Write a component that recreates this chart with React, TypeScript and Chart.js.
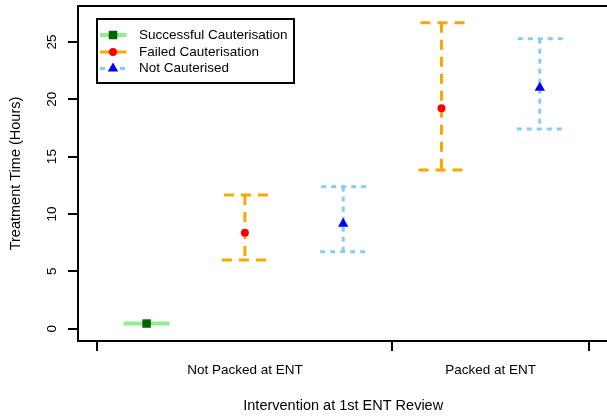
import React, { useEffect, useRef } from 'react';
import { Chart, registerables } from 'chart.js';

Chart.register(...registerables);

// ---- data ----
const categories = ['Not Packed at ENT', 'Packed at ENT'];
const categoryPos = [2, 4.5];
const xTickPos = [0.5, 3.5, 5.5];
const yTicks = [0, 5, 10, 15, 20, 25];
const xTitle = 'Intervention at 1st ENT Review';
const yTitle = 'Treatment Time (Hours)';

const seriesNames = ['Successful Cauterisation', 'Failed Cauterisation', 'Not Cauterised'];

const successX = [1];
const successMean = [0.45];
const successLow = [0.45];
const successHigh = [0.45];

const failedX = [2, 4];
const failedMean = [8.37, 19.22];
const failedLow = [5.99, 13.84];
const failedHigh = [11.66, 26.68];

const notX = [3, 5];
const notMean = [9.15, 21.01];
const notLow = [6.71, 17.41];
const notHigh = [12.38, 25.28];

const FONT = '13.5px "Liberation Sans", Arial, sans-serif';
const TITLE_FONT = '14.5px "Liberation Sans", Arial, sans-serif';
const CAP = 23;

const styles = [
  { line: '#90EE90', width: 4, dash: [] as number[], marker: '#006400', shape: 'rect', r: 6 },
  { line: '#FFA500', width: 3, dash: [10, 7], marker: '#FF0000', shape: 'circle', r: 4 },
  { line: '#87CEEB', width: 3, dash: [5, 5], marker: '#0000FF', shape: 'triangle', r: 6 },
];

function drawMarker(ctx: CanvasRenderingContext2D, shape: string, x: number, y: number, r: number, color: string) {
  ctx.save();
  ctx.fillStyle = color;
  ctx.beginPath();
  if (shape === 'rect') {
    const s = Math.SQRT1_2 * r;
    ctx.rect(x - s, y - s, 2 * s, 2 * s);
  } else if (shape === 'circle') {
    ctx.arc(x, y, r, 0, Math.PI * 2);
  } else {
    ctx.moveTo(x, y - r);
    ctx.lineTo(x + r * Math.sin((2 * Math.PI) / 3), y - r * Math.cos((2 * Math.PI) / 3));
    ctx.lineTo(x + r * Math.sin((4 * Math.PI) / 3), y - r * Math.cos((4 * Math.PI) / 3));
    ctx.closePath();
  }
  ctx.fill();
  ctx.restore();
}

export default function App() {
  const ref = useRef<HTMLCanvasElement>(null);

  useEffect(() => {
    document.body.style.margin = '0';
    const canvas = ref.current!;
    const mk = (xs: number[], ys: number[]) => xs.map((x, i) => ({ x, y: ys[i] }));
    const sets = [
      { xs: successX, m: successMean, lo: successLow, hi: successHigh },
      { xs: failedX, m: failedMean, lo: failedLow, hi: failedHigh },
      { xs: notX, m: notMean, lo: notLow, hi: notHigh },
    ];
    const datasets: any[] = sets.map((s, i) => ({
      label: seriesNames[i],
      data: mk(s.xs, s.m),
      low: s.lo,
      high: s.hi,
      showLine: false,
      pointStyle: styles[i].shape,
      pointRadius: styles[i].r,
      pointHoverRadius: styles[i].r,
      pointBackgroundColor: styles[i].marker,
      pointBorderColor: styles[i].marker,
      pointBorderWidth: 0,
      clip: false,
    }));

    const errorBars = {
      id: 'errorBars',
      beforeDatasetsDraw(chart: any) {
        const { ctx } = chart;
        const x = chart.scales.x;
        const y = chart.scales.y;
        chart.data.datasets.forEach((ds: any, di: number) => {
          const st = styles[di];
          ctx.save();
          ctx.strokeStyle = st.line;
          ctx.lineWidth = st.width;
          ctx.setLineDash(st.dash);
          ctx.lineCap = 'butt';
          ds.data.forEach((p: any, i: number) => {
            const px = x.getPixelForValue(p.x);
            const yl = y.getPixelForValue(ds.low[i]);
            const yh = y.getPixelForValue(ds.high[i]);
            if (Math.abs(yl - yh) > 0.5) {
              ctx.beginPath();
              ctx.moveTo(px, yh);
              ctx.lineTo(px, yl);
              ctx.stroke();
            }
            ctx.beginPath();
            ctx.moveTo(px + CAP, yh);
            ctx.lineTo(px - CAP, yh);
            ctx.stroke();
            if (Math.abs(yl - yh) > 0.5) {
              ctx.beginPath();
              ctx.moveTo(px - CAP, yl);
              ctx.lineTo(px + CAP, yl);
              ctx.stroke();
            }
          });
          ctx.restore();
        });
      },
    };

    const decor = {
      id: 'decor',
      afterDraw(chart: any) {
        const { ctx, chartArea } = chart;
        const x = chart.scales.x;
        const y = chart.scales.y;
        const W = chart.width;
        const left = Math.round(chartArea.left);
        const top = Math.round(chartArea.top);
        const bottom = Math.round(chartArea.bottom);
        ctx.save();
        ctx.strokeStyle = '#000';
        ctx.lineWidth = 2;
        ctx.setLineDash([]);
        // frame (right edge lies outside the canvas)
        ctx.beginPath();
        ctx.moveTo(W + 5, top);
        ctx.lineTo(left, top);
        ctx.lineTo(left, bottom);
        ctx.lineTo(W + 5, bottom);
        ctx.stroke();
        // y ticks
        ctx.beginPath();
        yTicks.forEach((v) => {
          const py = Math.round(y.getPixelForValue(v));
          ctx.moveTo(left - 10, py);
          ctx.lineTo(left, py);
        });
        // x ticks
        xTickPos.forEach((v) => {
          const px = Math.round(x.getPixelForValue(v));
          ctx.moveTo(px, bottom);
          ctx.lineTo(px, bottom + 10);
        });
        ctx.stroke();

        ctx.fillStyle = '#000';
        ctx.font = FONT;
        ctx.textAlign = 'center';
        ctx.textBaseline = 'middle';
        // y tick labels (rotated)
        yTicks.forEach((v) => {
          const py = y.getPixelForValue(v);
          ctx.save();
          ctx.translate(52, py);
          ctx.rotate(-Math.PI / 2);
          ctx.fillText(String(v), 0, 0);
          ctx.restore();
        });
        // x category labels
        categories.forEach((c, i) => {
          ctx.fillText(c, x.getPixelForValue(categoryPos[i]), 370);
        });
        // titles
        ctx.font = TITLE_FONT;
        ctx.fillText(xTitle, x.getPixelForValue(3), 406);
        ctx.save();
        ctx.translate(16, (top + bottom) / 2);
        ctx.rotate(-Math.PI / 2);
        ctx.fillText(yTitle, 0, 0);
        ctx.restore();

        // legend
        ctx.font = FONT;
        ctx.lineWidth = 2;
        ctx.strokeStyle = '#000';
        ctx.strokeRect(97, 19, 197, 64);
        const rows = [35, 52, 68.5];
        seriesNames.forEach((name, i) => {
          const st = styles[i];
          const ry = rows[i];
          ctx.save();
          ctx.strokeStyle = st.line;
          ctx.lineWidth = st.width;
          ctx.setLineDash(st.dash);
          ctx.beginPath();
          ctx.moveTo(100, ry);
          ctx.lineTo(126.5, ry);
          ctx.stroke();
          ctx.restore();
          drawMarker(ctx, st.shape, 113, ry, st.r, st.marker);
          ctx.fillStyle = '#000';
          ctx.textAlign = 'left';
          ctx.fillText(name, 139, ry);
        });
        ctx.restore();
      },
    };

    const chart = new Chart(canvas, {
      type: 'scatter',
      data: { datasets },
      options: {
        responsive: false,
        animation: false,
        devicePixelRatio: 1,
        layout: { autoPadding: false, padding: { left: 78, top: 6, right: 0, bottom: 75 } },
        scales: {
          x: { type: 'linear', display: false, min: 0.3021, max: 5.6836 },
          y: { type: 'linear', display: false, min: -1.072, max: 28.13 },
        },
        plugins: {
          legend: { display: false },
          tooltip: { enabled: false },
        },
      },
      plugins: [errorBars, decor],
    } as any);

    return () => chart.destroy();
  }, []);

  return (
    <canvas
      ref={ref}
      width={607}
      height={416}
      style={{ display: 'block', width: '607px', height: '416px' }}
    />
  );
}
